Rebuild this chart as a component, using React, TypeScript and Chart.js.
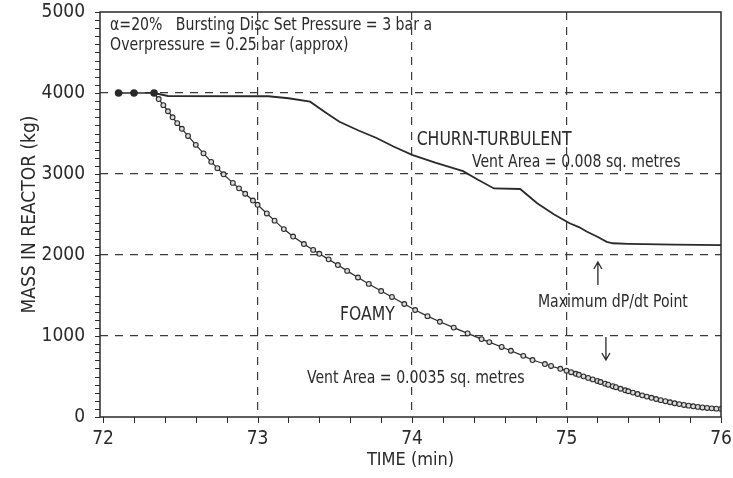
import React, { useEffect, useRef } from 'react';
import { Chart, registerables } from 'chart.js';

Chart.register(...registerables);

// ---- tick labels ----
const X_TICKS = [72, 73, 74, 75, 76];
const Y_TICKS = [0, 1000, 2000, 3000, 4000, 5000];

// ---- initial hold at 4000 kg (shared) ----
const START_T = [72.1, 72.2, 72.33];
const START_M = [4000, 4000, 4000];

// ---- FOAMY, vent area 0.0035 m2 ----
const FOAMY_T = [
  72.33, 72.36, 72.39, 72.42, 72.45, 72.48, 72.51, 72.55, 72.6, 72.65,
  72.7, 72.74, 72.78, 72.84, 72.88, 72.92, 72.97, 73.0, 73.06, 73.11,
  73.17, 73.23, 73.3, 73.36, 73.4, 73.46, 73.52, 73.58, 73.65, 73.72,
  73.8, 73.87, 73.95, 74.02, 74.1, 74.18, 74.27, 74.36, 74.45, 74.5,
  74.58, 74.64, 74.72, 74.78, 74.86, 74.9, 74.96, 75.0, 75.03, 75.06,
  75.08, 75.11, 75.14, 75.17, 75.2, 75.22, 75.25, 75.27, 75.3, 75.32,
  75.35, 75.38, 75.4, 75.43, 75.46, 75.49, 75.52, 75.55, 75.58, 75.61,
  75.64, 75.67, 75.7, 75.73, 75.76, 75.79, 75.82, 75.85, 75.88, 75.91,
  75.94, 75.97, 76.0,
];
const FOAMY_M = [
  4000, 3925, 3850, 3775, 3700, 3628, 3558, 3470, 3360, 3255,
  3150, 3072, 2996, 2890, 2823, 2756, 2672, 2620, 2513, 2424,
  2320, 2228, 2135, 2063, 2015, 1946, 1876, 1804, 1722, 1643,
  1555, 1482, 1395, 1321, 1245, 1176, 1104, 1032, 962, 925,
  865, 818, 755, 703, 654, 630, 595, 572, 553, 534,
  521, 502, 483, 464, 445, 432, 412, 399, 380, 368,
  349, 330, 318, 301, 284, 267, 252, 237, 222, 208,
  195, 182, 170, 159, 149, 140, 132, 125, 118, 112,
  107, 103, 100,
];

// ---- CHURN-TURBULENT, vent area 0.008 m2 ----
const CHURN_T = [
  72.33, 72.42, 73.07, 73.2, 73.34, 73.44, 73.53, 73.65, 73.77, 73.88,
  74.0, 74.15, 74.33, 74.43, 74.53, 74.7, 74.81, 74.92, 75.02, 75.08,
  75.13, 75.2, 75.26, 75.3, 75.4, 75.7, 76.0,
];
const CHURN_M = [
  4000, 3963, 3960, 3935, 3893, 3760, 3645, 3540, 3444, 3340,
  3237, 3140, 3035, 2925, 2822, 2815, 2640, 2500, 2392, 2345,
  2290, 2225, 2162, 2145, 2138, 2128, 2123,
];

// ---- annotations (data coordinates) ----
const ANNOTATIONS = [
  { text: 'α=20%   Bursting Disc Set Pressure = 3 bar a', x: 72.045, y: 4840, size: 18 },
  { text: 'Overpressure = 0.25 bar (approx)', x: 72.045, y: 4593, size: 18 },
  { text: 'CHURN-TURBULENT', x: 74.03, y: 3420, size: 20 },
  { text: 'Vent Area = 0.008 sq. metres', x: 74.388, y: 3148, size: 18 },
  { text: 'Maximum dP/dt Point', x: 74.815, y: 1420, size: 18 },
  { text: 'FOAMY', x: 73.533, y: 1259, size: 20 },
  { text: 'Vent Area = 0.0035 sq. metres', x: 73.32, y: 481, size: 18 },
];
const ARROWS = [
  { x: 75.203, from: 1630, to: 1914 },
  { x: 75.255, from: 988, to: 704 },
];

const INK = '#2a2a2a';
const FONT = '"DejaVu Sans Condensed", "DejaVu Sans", sans-serif';
const TEXT_SCALE_X = 0.87;

const pts = (t: number[], m: number[]) => t.map((v, i) => ({ x: v, y: m[i] }));

const decorPlugin = {
  id: 'decor',
  afterDatasetsDraw(chart: any) {
    const { ctx, chartArea: a, scales } = chart;
    const x = scales.x;
    const y = scales.y;
    ctx.save();
    ctx.setLineDash([]);
    ctx.strokeStyle = INK;
    ctx.lineWidth = 1.5;
    ctx.strokeRect(a.left, a.top, a.right - a.left, a.bottom - a.top);

    // minor ticks
    ctx.lineWidth = 1;
    ctx.beginPath();
    for (let i = 0; i <= 20; i++) {
      const px = Math.round(x.getPixelForValue(72 + i * 0.2)) + 0.5;
      ctx.moveTo(px, a.bottom);
      ctx.lineTo(px, a.bottom + 6);
    }
    for (let i = 0; i <= 50; i++) {
      const py = Math.round(y.getPixelForValue(i * 100)) + 0.5;
      ctx.moveTo(a.left - 5, py);
      ctx.lineTo(a.left, py);
    }
    ctx.stroke();

    // arrows
    ctx.lineWidth = 1.3;
    for (const ar of ARROWS) {
      const px = x.getPixelForValue(ar.x);
      const p0 = y.getPixelForValue(ar.from);
      const p1 = y.getPixelForValue(ar.to);
      const dir = p1 < p0 ? 1 : -1;
      ctx.beginPath();
      ctx.moveTo(px, p0);
      ctx.lineTo(px, p1);
      ctx.moveTo(px - 4, p1 + dir * 7);
      ctx.lineTo(px, p1);
      ctx.lineTo(px + 4, p1 + dir * 7);
      ctx.stroke();
    }

    // text
    ctx.fillStyle = INK;
    ctx.textBaseline = 'middle';
    ctx.textAlign = 'left';
    for (const an of ANNOTATIONS) {
      const px = x.getPixelForValue(an.x);
      const py = y.getPixelForValue(an.y);
      ctx.save();
      ctx.translate(px, py);
      ctx.scale(TEXT_SCALE_X, 1);
      ctx.font = `${an.size}px ${FONT}`;
      ctx.fillText(an.text, 0, 0);
      ctx.restore();
    }
    ctx.restore();
  },
};

export default function App() {
  const ref = useRef<HTMLCanvasElement | null>(null);

  useEffect(() => {
    if (!ref.current) return;
    const gridColor = (edge: number[]) => (c: any) =>
      c.tick && edge.includes(c.tick.value) ? 'rgba(0,0,0,0)' : '#3a3a3a';

    const chart = new Chart(ref.current, {
      type: 'line',
      data: {
        datasets: [
          {
            label: 'start',
            data: pts(START_T, START_M),
            borderColor: INK,
            borderWidth: 1.5,
            pointRadius: 3,
            pointBackgroundColor: INK,
            pointBorderColor: INK,
          },
          {
            label: 'Churn-turbulent',
            data: pts(CHURN_T, CHURN_M),
            borderColor: INK,
            borderWidth: 1.8,
            pointRadius: 0,
            tension: 0,
          },
          {
            label: 'Foamy',
            data: pts(FOAMY_T, FOAMY_M),
            borderColor: INK,
            borderWidth: 1.2,
            pointRadius: 2.4,
            pointBackgroundColor: '#d9d9d9',
            pointBorderColor: INK,
            pointBorderWidth: 1.1,
            tension: 0,
          },
        ],
      },
      options: {
        animation: false,
        responsive: false,
        events: [],
        layout: { padding: { top: 12, right: 12, left: 0, bottom: 0 } },
        plugins: { legend: { display: false }, tooltip: { enabled: false } },
        scales: {
          x: {
            type: 'linear',
            min: 71.98,
            max: 76,
            afterBuildTicks: (s: any) => {
              s.ticks = X_TICKS.map((v) => ({ value: v }));
            },
            afterFit: (s: any) => {
              s.height = 61;
              s.paddingLeft = 0;
              s.paddingRight = 0;
            },
            ticks: {
              autoSkip: false,
              maxRotation: 0,
              padding: 11,
              color: INK,
              font: { family: FONT, size: 19 },
              callback: (v: any) => String(v),
            },
            grid: { color: gridColor([72, 76]), lineWidth: 1.2, drawTicks: false },
            border: { display: false, dash: [8, 7] },
            title: {
              display: true,
              text: 'TIME (min)',
              color: INK,
              font: { family: FONT, size: 18 },
              padding: { top: 0, bottom: 7 },
            },
          },
          y: {
            type: 'linear',
            min: 0,
            max: 5000,
            afterBuildTicks: (s: any) => {
              s.ticks = Y_TICKS.map((v) => ({ value: v }));
            },
            afterFit: (s: any) => {
              s.width = 100;
              s.paddingTop = 0;
              s.paddingBottom = 0;
            },
            ticks: {
              padding: 15,
              color: INK,
              font: { family: FONT, size: 19 },
              callback: (v: any) => String(v),
            },
            grid: { color: gridColor([0, 5000]), lineWidth: 1.2, drawTicks: false },
            border: { display: false, dash: [8, 7] },
            title: {
              display: true,
              text: 'MASS IN REACTOR (kg)',
              color: INK,
              font: { family: FONT, size: 19 },
              padding: { top: 19, bottom: 0 },
            },
          },
        },
      },
      plugins: [decorPlugin],
    } as any);
    return () => chart.destroy();
  }, []);

  return (
    <div style={{ position: 'fixed', left: 0, top: 0, width: 733, height: 478, background: '#fff' }}>
      <canvas ref={ref} width={733} height={478} style={{ display: 'block' }} />
    </div>
  );
}
